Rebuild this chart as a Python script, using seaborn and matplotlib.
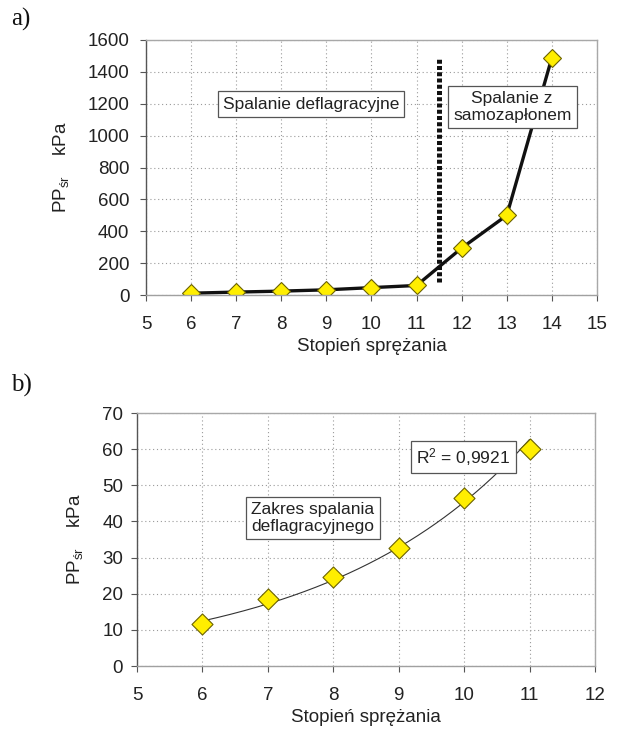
import numpy as np
import pandas as pd
import matplotlib
matplotlib.use("Agg")
import matplotlib.pyplot as plt
import seaborn as sns

# Compression ratio vs. mean pressure increase (panel a: full range, panel b: deflagration range)
ratio_a = [6, 7, 8, 9, 10, 11, 12, 13, 14]
pp_a = [11.5, 18.5, 24.5, 32.7, 46.5, 60.0, 295, 500, 1490]

ratio_b = [6, 7, 8, 9, 10, 11]
pp_b = [11.5, 18.5, 24.5, 32.7, 46.5, 60.0]

boundary_x = 11.5
boundary_y = [80, 1480]

xlabel = "Stopień sprężania"
ylabel = "PP$_{\\mathsf{śr}}$    kPa"
box_a1 = "Spalanie deflagracyjne"
box_a2 = "Spalanie z\nsamozapłonem"
box_b1 = "Zakres spalania\ndeflagracyjnego"
box_b2 = "R$^{2}$ = 0,9921"

sns.set_theme(style="white")
plt.rcParams["font.family"] = ["Liberation Sans", "DejaVu Sans"]
plt.rcParams["mathtext.fontset"] = "custom"
plt.rcParams["mathtext.rm"] = "Liberation Sans"
plt.rcParams["mathtext.sf"] = "Liberation Sans"
plt.rcParams["mathtext.it"] = "Liberation Sans"

fig = plt.figure(figsize=(6.17, 7.31), dpi=100)
ax_a = fig.add_axes([0.2366, 0.5964, 0.7310, 0.3489])
ax_b = fig.add_axes([0.2220, 0.0889, 0.7423, 0.3461])

text_col = "#222222"
marker_face = "#FFEE00"
marker_edge = "#6b6200"
box_style = dict(boxstyle="square,pad=0.3", fc="white", ec="#555555", lw=0.9)
tick_fs = 13.5


def style_axes(ax, xticks, yticks, ypad):
    ax.set_xticks(xticks)
    ax.set_yticks(yticks)
    ax.grid(True, color="#9a9a9a", linestyle=(0, (1, 2.5)), linewidth=0.8)
    ax.set_axisbelow(True)
    for side in ("top", "right"):
        ax.spines[side].set_color("#a8a8a8")
        ax.spines[side].set_linewidth(1.0)
    ax.spines["left"].set_color("#555555")
    ax.spines["bottom"].set_color("#a0a0a0")
    for side in ("left", "bottom"):
        ax.spines[side].set_linewidth(1.0)
    ax.tick_params(axis="x", direction="out", length=4, width=0.8, color="#555555",
                   pad=11, labelsize=tick_fs, labelcolor=text_col, bottom=True)
    ax.tick_params(axis="y", direction="out", length=4, width=0.8, color="#555555",
                   pad=ypad, labelsize=tick_fs, labelcolor=text_col, left=True)
    ax.set_xlabel(xlabel, fontsize=13.5, color=text_col, labelpad=4)
    ax.set_ylabel(ylabel, fontsize=13.5, color=text_col, labelpad=12)


# Panel a
df_a = pd.DataFrame({"x": ratio_a, "y": pp_a})
sns.lineplot(data=df_a, x="x", y="y", ax=ax_a, color="#111111", linewidth=2.4,
             marker="D", markersize=9, markerfacecolor=marker_face,
             markeredgecolor=marker_edge, markeredgewidth=0.8)
ax_a.plot([boundary_x, boundary_x], boundary_y, color="#111111", linewidth=3.6,
          linestyle=(0, (0.8, 0.45)), solid_capstyle="butt", dash_capstyle="butt")
ax_a.set_xlim(5, 15)
ax_a.set_ylim(0, 1600)
style_axes(ax_a, range(5, 16), range(0, 1601, 200), 8)
ax_a.text(8.66, 1198, box_a1, ha="center", va="center", fontsize=12.5,
          color=text_col, bbox=box_style)
ax_a.text(13.12, 1180, box_a2, ha="center", va="center", fontsize=12.5,
          color=text_col, bbox=box_style, linespacing=1.15)

# Panel b with exponential trendline
df_b = pd.DataFrame({"x": ratio_b, "y": pp_b})
coef = np.polyfit(ratio_b, np.log(pp_b), 1)
xs = np.linspace(min(ratio_b), max(ratio_b), 200)
trend = pd.DataFrame({"x": xs, "y": np.exp(np.polyval(coef, xs))})
sns.lineplot(data=trend, x="x", y="y", ax=ax_b, color="#333333", linewidth=0.8)
sns.scatterplot(data=df_b, x="x", y="y", ax=ax_b, marker="D", s=115,
                color=marker_face, edgecolor=marker_edge, linewidth=0.8, zorder=3)
ax_b.set_xlim(5, 12)
ax_b.set_ylim(0, 70)
style_axes(ax_b, range(5, 13), range(0, 71, 10), 6)
ax_b.text(7.69, 41, box_b1, ha="center", va="center", fontsize=12.5,
          color=text_col, bbox=box_style, linespacing=1.15)
ax_b.text(9.99, 57.9, box_b2, ha="center", va="center", fontsize=12.5,
          color=text_col, bbox=box_style)

# Panel letters
fig.text(11 / 617, 1 - 19 / 731, "a)", fontsize=18, family="Liberation Serif",
         va="center", ha="left", color="#111111")
fig.text(11 / 617, 1 - 385 / 731, "b)", fontsize=18, family="Liberation Serif",
         va="center", ha="left", color="#111111")

fig.savefig("out.png", dpi=100)
